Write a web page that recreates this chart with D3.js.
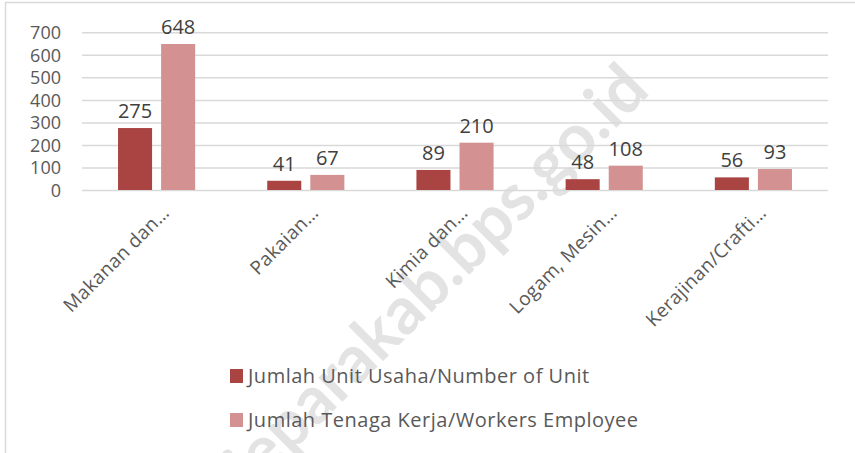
<!DOCTYPE html>
<html><head><meta charset="utf-8">
<script src="https://cdn.jsdelivr.net/npm/d3@7"></script>
<style>body{margin:0;background:#fff}svg{display:block}</style>
</head><body><svg id="c" width="855" height="453"></svg>
<script>
const categories = ["Makanan dan…","Pakaian…","Kimia dan…","Logam, Mesin…","Kerajinan/Crafti…"];
const seriesNames = ["Jumlah Unit Usaha/Number of Unit","Jumlah Tenaga Kerja/Workers Employee"];
const unitValues = [275,41,89,48,56];
const workerValues = [648,67,210,108,93];
const yTicks = [0,100,200,300,400,500,600,700];
const colors = ["#a94442","#d39191"];
const watermark = "jeparakab.bps.go.id";

const svg = d3.select("#c");
const font = "'Open Sans', sans-serif";
const W=855,H=453;
// frame
svg.append("path").attr("d",`M5.5,${H} V2.5 H${W}`).attr("fill","none").attr("stroke","#d9d9d9").attr("stroke-width",1.5);

// watermark (behind)
svg.append("text").attr("transform","translate(452,292) rotate(-45)").attr("text-anchor","middle")
  .attr("font-family","Lato, sans-serif").attr("font-weight","bold").attr("font-size",66)
  .attr("fill","#e3e3e3").text(watermark);

const x0=82,x1=828,yTop=32.3,yBot=190;
const x = d3.scaleBand().domain(categories).range([x0,x1]).paddingInner(0.483).paddingOuter(0.2415);
const y = d3.scaleLinear().domain([0,700]).range([yBot,yTop]);
const xs = d3.scaleBand().domain([0,1]).range([0,x.bandwidth()]).paddingInner(0.21);

// grid
const yAxis = d3.axisLeft(y).tickValues(yTicks).tickSize(-(x1-x0)).tickPadding(10);
const gy = svg.append("g").attr("transform",`translate(${x0},0)`).call(yAxis);
gy.select(".domain").remove();
gy.selectAll(".tick line").attr("stroke","#d9d9d9").attr("stroke-width",1.5);
gy.selectAll(".tick text").attr("fill","#595959").attr("font-family",font).attr("font-size",18).attr("x",-21).attr("dy","0.36em");

const data = categories.map((c,i)=>({c,vals:[unitValues[i],workerValues[i]]}));
const g = svg.append("g");
const grp = g.selectAll("g.cat").data(data).join("g").attr("transform",d=>`translate(${x(d.c)},0)`);
grp.selectAll("rect").data(d=>d.vals.map((v,k)=>({v,k}))).join("rect")
  .attr("x",d=>xs(d.k)).attr("width",xs.bandwidth())
  .attr("y",d=>y(d.v)).attr("height",d=>y(0)-y(d.v)).attr("fill",d=>colors[d.k]);
grp.selectAll("text").data(d=>d.vals.map((v,k)=>({v,k}))).join("text")
  .attr("x",d=>xs(d.k)+xs.bandwidth()/2).attr("y",d=>y(d.v)-10)
  .attr("text-anchor","middle").attr("fill","#404040").attr("font-family",font).attr("font-size",20).text(d=>d.v);

// x axis labels
const xAxis = d3.axisBottom(x).tickSize(0).tickPadding(0);
const gx = svg.append("g").attr("transform",`translate(0,${yBot})`).call(xAxis);
gx.select(".domain").remove();
gx.selectAll(".tick text").attr("fill","#595959").attr("font-family",font).attr("font-size",19)
  .attr("letter-spacing","0.4px")
  .attr("text-anchor","end").attr("dy",0).attr("y",0)
  .attr("transform","translate(14,24) rotate(-45)");

// legend
const lg = svg.append("g").attr("transform","translate(230,369)");
seriesNames.forEach((s,i)=>{
  const r = lg.append("g").attr("transform",`translate(0,${i*44})`);
  r.append("rect").attr("width",13).attr("height",14).attr("fill",colors[i]);
  r.append("text").attr("x",18).attr("y",7).attr("dy","0.36em").attr("fill","#595959").attr("font-family",font).attr("font-size",20).attr("letter-spacing","0.5px").text(s);
});
</script></body></html>
